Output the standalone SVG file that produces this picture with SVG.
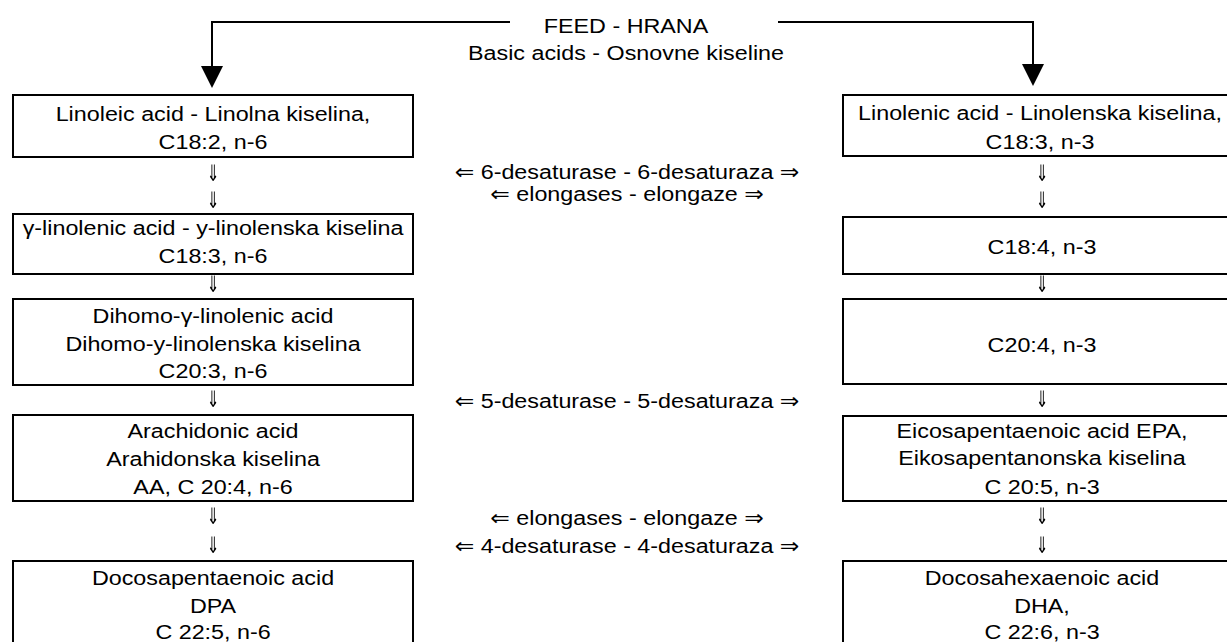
<svg xmlns="http://www.w3.org/2000/svg" width="1227" height="642" viewBox="0 0 1227 642">
<style>
.box{fill:#fff;stroke:#000;stroke-width:2}
.t{font-family:"Liberation Sans",Arial,"DejaVu Sans",sans-serif;font-size:21px;fill:#000;text-anchor:middle}
.arr{font-family:"DejaVu Sans",sans-serif;font-size:19px;fill:#000;text-anchor:middle}
.feed{fill:none;stroke:#000;stroke-width:2}
</style>
<defs>
<marker id="head" viewBox="0 0 22 22" markerWidth="22" markerHeight="22" refX="12" refY="11" orient="auto" markerUnits="userSpaceOnUse">
<path d="M0,0 L22,11 L0,22 z" fill="#000"/>
</marker>
<filter id="gray" x="-10%" y="-10%" width="120%" height="120%" color-interpolation-filters="sRGB">
<feColorMatrix type="saturate" values="0"/>
</filter>
</defs>
<rect width="1227" height="642" fill="#fff"/>

<g id="connectors">
<path class="feed" d="M510,22 H212 V78" marker-end="url(#head)"/>
<path class="feed" d="M778,22 H1033 V76" marker-end="url(#head)"/>
<g id="down-left" filter="url(#gray)">
<text class="arr" transform="translate(213,181) scale(0.8,1.2)">⇓</text>
<text class="arr" transform="translate(213,208) scale(0.8,1.2)">⇓</text>
<text class="arr" transform="translate(213,292) scale(0.8,1.2)">⇓</text>
<text class="arr" transform="translate(213,407) scale(0.8,1.2)">⇓</text>
<text class="arr" transform="translate(213,524) scale(0.8,1.2)">⇓</text>
<text class="arr" transform="translate(213,553) scale(0.8,1.2)">⇓</text>
</g>
<g id="down-right" filter="url(#gray)">
<text class="arr" transform="translate(1042,181) scale(0.8,1.2)">⇓</text>
<text class="arr" transform="translate(1042,208) scale(0.8,1.2)">⇓</text>
<text class="arr" transform="translate(1042,292) scale(0.8,1.2)">⇓</text>
<text class="arr" transform="translate(1042,407) scale(0.8,1.2)">⇓</text>
<text class="arr" transform="translate(1042,524) scale(0.8,1.2)">⇓</text>
<text class="arr" transform="translate(1042,553) scale(0.8,1.2)">⇓</text>
</g>
</g>

<g id="feed-title">
<text class="t" transform="translate(626,33) scale(1.11,1)"><tspan x="0" y="0">FEED - HRANA</tspan><tspan x="0" y="27">Basic acids - Osnovne kiseline</tspan></text>
</g>

<g id="enzymes">
<text class="t" transform="translate(627,179) scale(1.11,1)"><tspan x="0" y="0">⇐ 6-desaturase - 6-desaturaza ⇒</tspan><tspan x="0" y="22">⇐ elongases - elongaze ⇒</tspan></text>
<text class="t" transform="translate(627,408) scale(1.11,1)">⇐ 5-desaturase - 5-desaturaza ⇒</text>
<text class="t" transform="translate(627,525) scale(1.11,1)"><tspan x="0" y="0">⇐ elongases - elongaze ⇒</tspan><tspan x="0" y="28">⇐ 4-desaturase - 4-desaturaza ⇒</tspan></text>
</g>

<g id="linoleic">
<rect class="box" x="13" y="95" width="400" height="62"/>
<text class="t" transform="translate(213,121) scale(1.11,1)"><tspan x="0" y="0">Linoleic acid - Linolna kiselina,</tspan><tspan x="0" y="28.5">C18:2, n-6</tspan></text>
</g>
<g id="gamma-linolenic">
<rect class="box" x="13" y="214" width="400" height="60"/>
<text class="t" transform="translate(213,235) scale(1.11,1)"><tspan x="0" y="0">γ-linolenic acid - y-linolenska kiselina</tspan><tspan x="0" y="28">C18:3, n-6</tspan></text>
</g>
<g id="dihomo">
<rect class="box" x="13" y="299" width="400" height="86"/>
<text class="t" transform="translate(213,323) scale(1.11,1)"><tspan x="0" y="0">Dihomo-γ-linolenic acid</tspan><tspan x="0" y="28">Dihomo-y-linolenska kiselina</tspan><tspan x="0" y="55">C20:3, n-6</tspan></text>
</g>
<g id="arachidonic">
<rect class="box" x="13" y="415" width="400" height="86"/>
<text class="t" transform="translate(213,438) scale(1.11,1)"><tspan x="0" y="0">Arachidonic acid</tspan><tspan x="0" y="28">Arahidonska kiselina</tspan><tspan x="0" y="56">AA, C 20:4, n-6</tspan></text>
</g>
<g id="dpa">
<rect class="box" x="13" y="561" width="400" height="100"/>
<text class="t" transform="translate(213,585) scale(1.11,1)"><tspan x="0" y="0">Docosapentaenoic acid</tspan><tspan x="0" y="28">DPA</tspan><tspan x="0" y="54">C 22:5, n-6</tspan></text>
</g>

<g id="linolenic">
<rect class="box" x="843" y="95" width="400" height="61"/>
<text class="t" transform="translate(1040,120) scale(1.11,1)"><tspan x="0" y="0">Linolenic acid - Linolenska kiselina,</tspan><tspan x="0" y="29">C18:3, n-3</tspan></text>
</g>
<g id="c18-4">
<rect class="box" x="843" y="217" width="400" height="57"/>
<text class="t" transform="translate(1042,254) scale(1.11,1)">C18:4, n-3</text>
</g>
<g id="c20-4">
<rect class="box" x="843" y="299" width="400" height="85"/>
<text class="t" transform="translate(1042,352) scale(1.11,1)">C20:4, n-3</text>
</g>
<g id="epa">
<rect class="box" x="843" y="416" width="400" height="85"/>
<text class="t" transform="translate(1042,438) scale(1.11,1)"><tspan x="0" y="0">Eicosapentaenoic acid EPA,</tspan><tspan x="0" y="27">Eikosapentanonska kiselina</tspan><tspan x="0" y="56">C 20:5, n-3</tspan></text>
</g>
<g id="dha">
<rect class="box" x="843" y="561" width="400" height="100"/>
<text class="t" transform="translate(1042,585) scale(1.11,1)"><tspan x="0" y="0">Docosahexaenoic acid</tspan><tspan x="0" y="28">DHA,</tspan><tspan x="0" y="54">C 22:6, n-3</tspan></text>
</g>
</svg>
